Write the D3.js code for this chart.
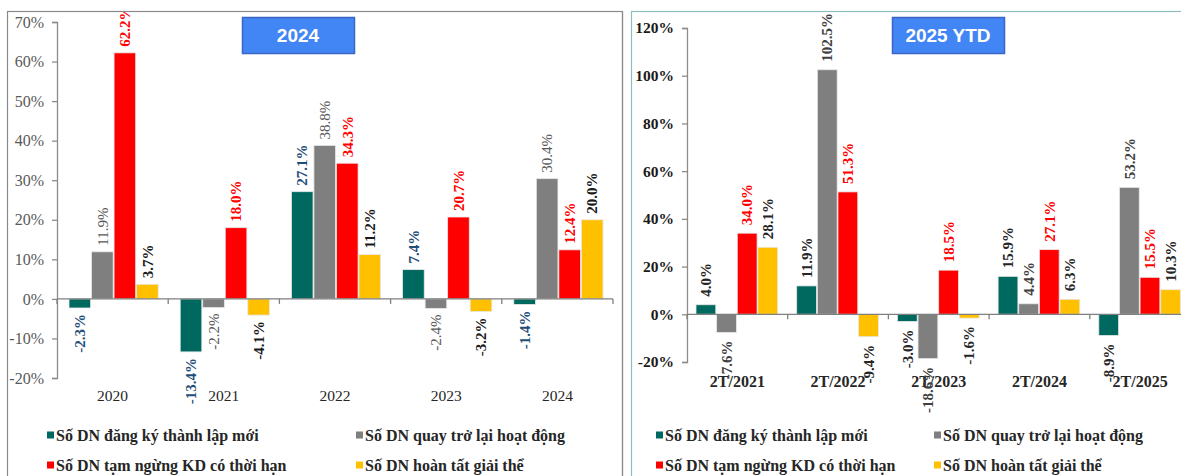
<!DOCTYPE html>
<html>
<head>
<meta charset="utf-8">
<script src="https://cdn.jsdelivr.net/npm/d3@7"></script>
<style>
  body { margin: 0; background: #fff; }
  svg { display: block; }
</style>
</head>
<body>
<svg id="chart" width="1181" height="476"></svg>
<script>
// series names (legend)
const seriesNames = [
    "Số DN đăng ký thành lập mới",
    "Số DN quay trở lại hoạt động",
    "Số DN tạm ngừng KD có thời hạn",
    "Số DN hoàn tất giải thể"
];
const seriesColors = ["#00695f", "#7f7f7f", "#ff0000", "#ffc000"];

// left panel: 2024
const yearsLeft = ["2020", "2021", "2022", "2023", "2024"];
const newLeft = [-2.3, -13.4, 27.1, 7.4, -1.4];
const returnLeft = [11.9, -2.2, 38.8, -2.4, 30.4];
const suspendLeft = [62.2, 18.0, 34.3, 20.7, 12.4];
const dissolvedLeft = [3.7, -4.1, 11.2, -3.2, 20.0];
const ticksLeft = [-20, -10, 0, 10, 20, 30, 40, 50, 60, 70];

// right panel: 2025 YTD
const periodsRight = ["2T/2021", "2T/2022", "2T/2023", "2T/2024", "2T/2025"];
const newRight = [4.0, 11.9, -3.0, 15.9, -8.9];
const returnRight = [-7.6, 102.5, -18.6, 4.4, 53.2];
const suspendRight = [34.0, 51.3, 18.5, 27.1, 15.5];
const dissolvedRight = [28.1, -9.4, -1.6, 6.3, 10.3];
const ticksRight = [-20, 0, 20, 40, 60, 80, 100, 120];

const svg = d3.select("svg#chart");
const SERIF = "'Liberation Serif', 'Times New Roman', serif";
const SANS = "'Liberation Sans', Arial, sans-serif";

const drawPanel = (cfg) => {
    const g = svg.append("g").attr("class", "panel");

    // panel frame
    g.append("rect")
        .attr("x", cfg.frame[0] + 0.5).attr("y", 11.5)
        .attr("width", cfg.frame[1] - cfg.frame[0]).attr("height", 480)
        .attr("fill", "none").attr("stroke", cfg.frameColor).attr("stroke-width", 1.2);

    g.append("clipPath").attr("id", "clip-" + cfg.id)
        .append("rect").attr("x", cfg.frame[0]).attr("y", 12)
        .attr("width", cfg.frame[1] - cfg.frame[0]).attr("height", 470);

    const y = d3.scaleLinear().domain(cfg.yDomain).range(cfg.yRange);
    const x = d3.scaleBand().domain(cfg.cats).range(cfg.xRange);
    const inner = d3.scaleBand().domain(d3.range(4))
        .range([cfg.innerPad[0], x.bandwidth() - cfg.innerPad[1]]).paddingInner(0.04);

    const plot = g.append("g").attr("clip-path", "url(#clip-" + cfg.id + ")");

    // y axis
    const yAxis = plot.append("g").attr("transform", `translate(${cfg.xRange[0]},0)`)
        .call(d3.axisLeft(y).tickValues(cfg.ticks).tickSize(5).tickPadding(8).tickFormat(d => d + "%"));
    yAxis.select(".domain").attr("stroke", "#8c8c8c").attr("stroke-width", 1.3);
    yAxis.selectAll(".tick line").attr("stroke", "#8c8c8c").attr("stroke-width", 1.3);
    yAxis.selectAll("text")
        .attr("font-family", SERIF).attr("font-size", cfg.tickFont)
        .attr("font-weight", cfg.tickBold ? "bold" : "normal")
        .attr("fill", cfg.tickColor);

    // bars
    const rows = [];
    cfg.series.forEach((vals, s) => vals.forEach((v, i) => rows.push({cat: cfg.cats[i], s, v})));

    plot.append("g").selectAll("rect").data(rows).enter().append("rect")
        .attr("x", d => x(d.cat) + inner(d.s))
        .attr("y", d => y(Math.max(0, d.v)))
        .attr("width", inner.bandwidth())
        .attr("height", d => Math.abs(y(d.v) - y(0)))
        .attr("fill", d => seriesColors[d.s])
        .attr("stroke", "#e8e8e8").attr("stroke-width", 0.8);

    // x axis at zero with separators between categories
    const x0 = y(0);
    plot.append("line")
        .attr("x1", cfg.xRange[0]).attr("x2", cfg.xRange[1])
        .attr("y1", x0).attr("y2", x0)
        .attr("stroke", "#7f7f7f").attr("stroke-width", 1.3);
    plot.append("g").selectAll("line").data(cfg.cats.concat(["end"])).enter().append("line")
        .attr("x1", (d, i) => cfg.xRange[0] + i * x.step())
        .attr("x2", (d, i) => cfg.xRange[0] + i * x.step())
        .attr("y1", x0).attr("y2", x0 + 5)
        .attr("stroke", "#7f7f7f").attr("stroke-width", 1.3);

    // category labels
    plot.append("g").selectAll("text").data(cfg.cats).enter().append("text")
        .attr("x", d => x(d) + x.bandwidth() / 2)
        .attr("y", cfg.catY)
        .attr("text-anchor", "middle")
        .attr("font-family", SERIF).attr("font-size", cfg.catFont)
        .attr("font-weight", cfg.catBold ? "bold" : "normal")
        .attr("fill", cfg.catColor)
        .text(d => d);

    // value labels (rotated)
    plot.append("g").selectAll("text").data(rows).enter().append("text")
        .attr("transform", d => {
            const cx = x(d.cat) + inner(d.s) + inner.bandwidth() / 2;
            const ty = d.v >= 0 ? y(d.v) - cfg.labelGap : y(d.v) + cfg.labelGap;
            return `translate(${cx},${ty}) rotate(-90)`;
        })
        .attr("text-anchor", d => d.v >= 0 ? "start" : "end")
        .attr("dy", "0.35em")
        .attr("font-family", SERIF).attr("font-size", 15)
        .attr("font-weight", d => cfg.labelBold[d.s] ? "bold" : "normal")
        .attr("fill", d => cfg.labelColors[d.s])
        .text(d => d.v.toFixed(1) + "%");

    // title box
    const tb = g.append("g").attr("transform", `translate(${cfg.title.x},17)`);
    tb.append("rect").attr("x", 0.5).attr("y", 0.5)
        .attr("width", cfg.title.w).attr("height", 36)
        .attr("fill", "#4285f4").attr("stroke", "#3a66c4").attr("stroke-width", 1.5);
    tb.append("text").attr("x", cfg.title.w / 2).attr("y", 25)
        .attr("text-anchor", "middle")
        .attr("font-family", SANS).attr("font-size", 19).attr("font-weight", "bold")
        .attr("fill", "#fff").text(cfg.title.text);

    // legend
    const lg = g.append("g").selectAll("g").data(seriesNames).enter().append("g")
        .attr("transform", (d, i) => `translate(${cfg.legendX[i % 2]},${i < 2 ? 435 : 465})`);
    lg.append("rect").attr("x", 0).attr("y", -3.5).attr("width", 7).attr("height", 7)
        .attr("fill", (d, i) => seriesColors[i]);
    lg.append("text").attr("x", 9).attr("dy", "0.35em")
        .attr("font-family", SERIF).attr("font-size", 16).attr("font-weight", "bold")
        .attr("fill", "#262626").text(d => d);
};

drawPanel({
    id: "left",
    frame: [7, 622],
    frameColor: "#8a8a8a",
    cats: yearsLeft,
    series: [newLeft, returnLeft, suspendLeft, dissolvedLeft],
    yDomain: [-20, 70], yRange: [378, 22],
    xRange: [57, 613],
    innerPad: [12, 10],
    ticks: ticksLeft,
    tickFont: 16, tickBold: false, tickColor: "#595959",
    catY: 401, catFont: 15.5, catBold: false, catColor: "#262626",
    labelGap: 6,
    labelBold: [true, false, true, true],
    labelColors: ["#1f4e79", "#595959", "#ff0000", "#1a1a1a"],
    title: {x: 242, w: 112, text: "2024"},
    legendX: [47, 356]
});

drawPanel({
    id: "right",
    frame: [631, 1200],
    frameColor: "#8fbcbc",
    cats: periodsRight,
    series: [newRight, returnRight, suspendRight, dissolvedRight],
    yDomain: [-20, 120], yRange: [362, 28],
    xRange: [687, 1190.5],
    innerPad: [9, 10],
    ticks: ticksRight,
    tickFont: 15.5, tickBold: true, tickColor: "#1a1a1a",
    catY: 387, catFont: 16, catBold: true, catColor: "#262626",
    labelGap: 8,
    labelBold: [true, true, true, true],
    labelColors: ["#262626", "#404040", "#ff0000", "#262626"],
    title: {x: 892, w: 112, text: "2025 YTD"},
    legendX: [656, 934]
});

// right edge of left frame drawn in gray, as in the source picture
svg.append("line").attr("x1", 622.5).attr("x2", 622.5).attr("y1", 11).attr("y2", 476)
    .attr("stroke", "#8a8a8a").attr("stroke-width", 1.2);
</script>
</body>
</html>
